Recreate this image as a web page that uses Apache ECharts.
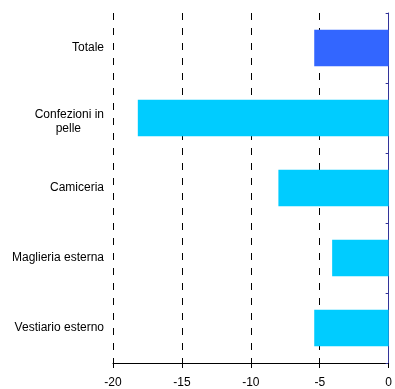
<!DOCTYPE html>
<html>
<head>
<meta charset="utf-8">
<script src="https://cdn.jsdelivr.net/npm/echarts@6/dist/echarts.min.js"></script>
<style>html,body{margin:0;padding:0;background:#fff;}#c{width:395px;height:389px;}</style>
</head>
<body>
<div id="c"></div>
<script>
const categories = ['Totale', 'Confezioni in pelle', 'Camiceria', 'Maglieria esterna', 'Vestiario esterno'];
const values = [-5.4, -18.2, -8.0, -4.1, -5.4];
const xTicks = [-20, -15, -10, -5, 0];

const chart = echarts.init(document.getElementById('c'), null, {renderer: 'canvas'});
const font = 'Liberation Sans, Arial, sans-serif';
chart.setOption({
  animation: false,
  backgroundColor: '#fff',
  grid: {left: 113, right: 3, top: 13, bottom: 24, containLabel: false},
  xAxis: {
    type: 'value', min: xTicks[0], max: xTicks[xTicks.length - 1], interval: 5,
    axisLine: {show: true, onZero: false, lineStyle: {color: '#000', width: 1}},
    axisTick: {show: true, length: 5, lineStyle: {color: '#000'}},
    axisLabel: {color: '#000', fontFamily: font, fontSize: 12, margin: 14},
    splitLine: {show: true, lineStyle: {color: '#000', type: [7, 8], width: 1}}
  },
  yAxis: [{
    type: 'category', data: categories, inverse: true, position: 'left',
    axisLine: {show: false}, axisTick: {show: false},
    axisLabel: {
      color: '#000', fontFamily: font, fontSize: 12, margin: 9, lineHeight: 15,
      formatter: function (v) {
        if (v === 'Confezioni in pelle') return '{c|Confezioni in}\n{p|pelle}';
        return v;
      },
      rich: {
        c: {fontFamily: font, fontSize: 12, color: '#000', lineHeight: 21, verticalAlign: 'bottom'},
        p: {fontFamily: font, fontSize: 12, color: '#000', lineHeight: 15, padding: [0, 23, 0, 0]}
      }
    }
  }, {
    type: 'category', data: categories, inverse: true, position: 'right',
    axisLine: {show: true, onZero: false, lineStyle: {color: '#333399', width: 1}},
    axisTick: {show: true, inside: true, length: 3, lineStyle: {color: '#333399'}},
    axisLabel: {show: false}
  }],
  series: [{
    type: 'bar', data: values, yAxisIndex: 0, barCategoryGap: '48%',
    itemStyle: {color: function (p) { return p.dataIndex === 0 ? '#3366FF' : '#00CCFF'; }}
  }]
});
</script>
</body>
</html>
